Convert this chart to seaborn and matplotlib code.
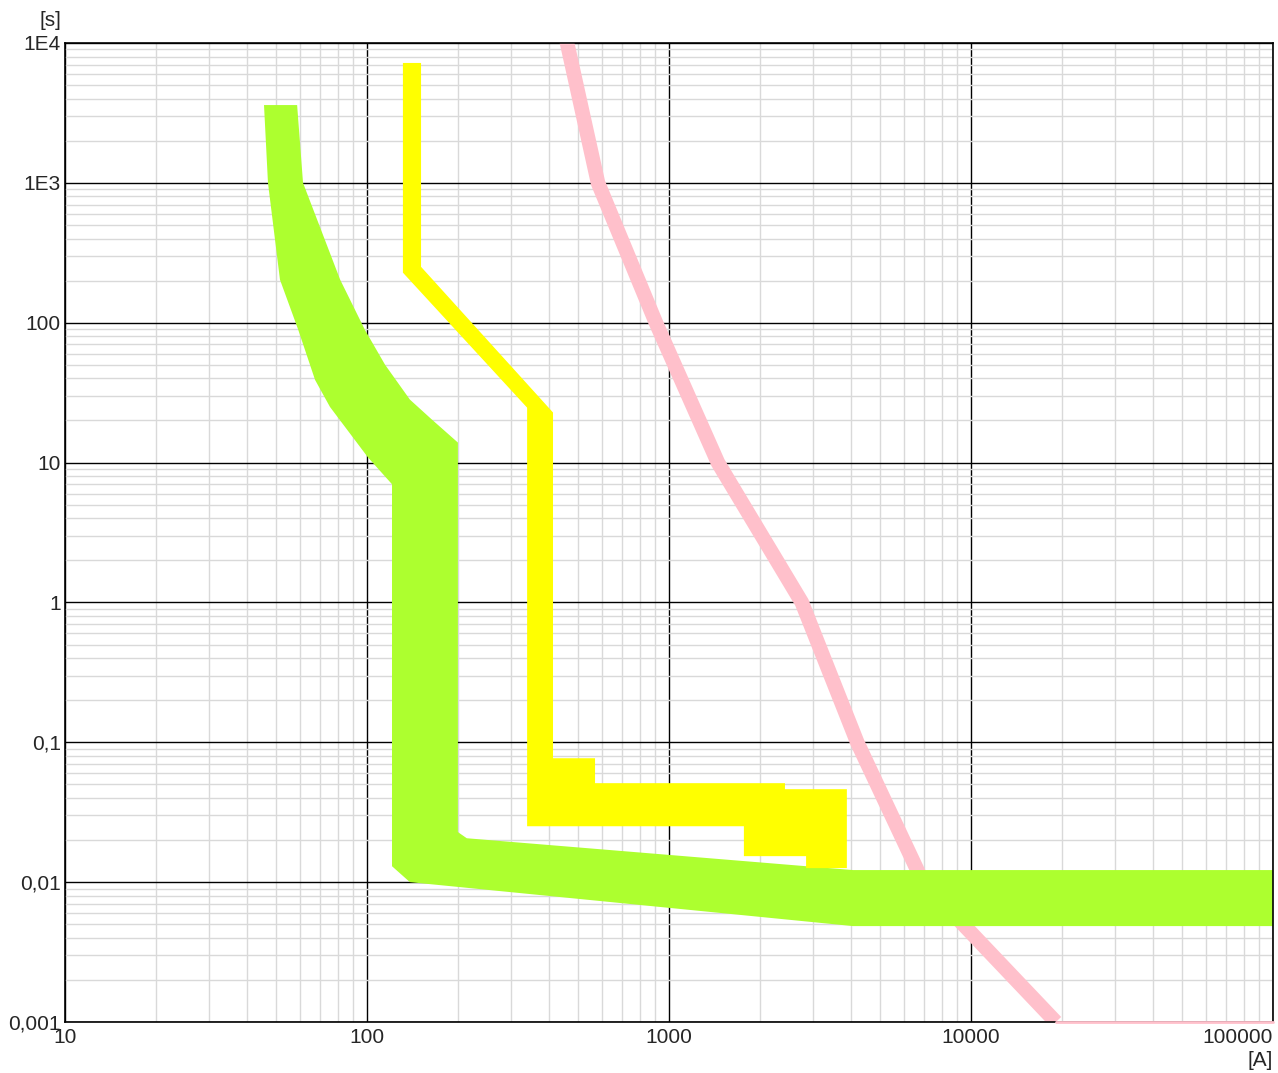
import matplotlib
matplotlib.use('Agg')
import matplotlib.pyplot as plt
import matplotlib.ticker as mticker
import numpy as np
import pandas as pd
import seaborn as sns

# Green band: upper/right edge top->bottom, lower/left edge top->bottom  (I [A], t [s])
green_upper_i = [58.7, 61.4, 81.5, 98.4, 114.8, 138.7, 164, 200, 200, 214, 4064, 100000]
green_upper_t = [3600, 1000, 203, 89, 50, 28.2, 20.3, 13.9, 0.0228, 0.0206, 0.0122, 0.0122]
green_lower_i = [45.6, 47, 51.5, 59.2, 67.3, 75.4, 100.7, 121, 121, 138.7, 4064, 100000]
green_lower_t = [3600, 1000, 203, 89, 39, 25, 10.9, 7.0, 0.013, 0.01, 0.00485, 0.00485]

# Yellow band outline
yellow_i = [131.5, 151, 151, 413, 413, 569, 569, 2421, 2421, 3881, 3881, 2844, 2844,
            1770, 1770, 339, 339, 131.5]
yellow_t = [7200, 7200, 251, 22.8, 0.0769, 0.0769, 0.051, 0.051, 0.0462, 0.0462,
            0.0126, 0.0126, 0.01534, 0.01534, 0.0251, 0.0251, 24.7, 228]

# Pink curve
pink_i = [449, 582, 905, 1452, 2753, 4200, 6935, 19100]
pink_t = [12600, 1000, 100, 10, 1, 0.1, 0.01, 0.001]
pink_tail_i = [19100, 100000]
pink_tail_t = [0.001, 0.001]

x_ticks = [10, 100, 1000, 10000, 100000]
x_labels = ['10', '100', '1000', '10000', '100000']
y_ticks = [0.001, 0.01, 0.1, 1, 10, 100, 1000, 10000]
y_labels = ['0,001', '0,01', '0,1', '1', '10', '100', '1E3', '1E4']

sns.set_style('white')
plt.rcParams['font.family'] = ['Liberation Sans', 'DejaVu Sans']

W, H = 1278, 1073
fig = plt.figure(figsize=(W / 100, H / 100), dpi=100)
ax = fig.add_axes([65 / W, 1 - 1022 / H, (1273 - 65) / W, (1022 - 43) / H])
ax.set_xscale('log')
ax.set_yscale('log')
ax.set_xlim(10, 100000)
ax.set_ylim(0.001, 10000)

# grid
ax.xaxis.set_minor_locator(mticker.LogLocator(base=10, subs=np.arange(2, 10), numticks=20))
ax.yaxis.set_minor_locator(mticker.LogLocator(base=10, subs=np.arange(2, 10), numticks=20))
ax.grid(which='minor', color='#d9d9d9', lw=1.0)
ax.grid(which='major', color='black', lw=1.0)
ax.set_axisbelow(True)

# pink curve (drawn first, under the bands)
pink = pd.DataFrame({'I': pink_i, 't': pink_t})
sns.lineplot(data=pink, x='I', y='t', sort=False, color='#ffc0cb', lw=10.5,
             ax=ax, zorder=2, solid_capstyle='butt', solid_joinstyle='round')
tail = pd.DataFrame({'I': pink_tail_i, 't': pink_tail_t})
sns.lineplot(data=tail, x='I', y='t', sort=False, color='#ffc0cb', lw=2,
             ax=ax, zorder=6, clip_on=False)

# green band
gx = green_upper_i + green_lower_i[::-1]
gy = green_upper_t + green_lower_t[::-1]
ax.fill(gx, gy, color='#adff2f', lw=0, zorder=3)

# yellow band
ax.fill(yellow_i, yellow_t, color='#ffff00', lw=0, zorder=3)

ax.xaxis.set_major_locator(mticker.FixedLocator(x_ticks))
ax.xaxis.set_major_formatter(mticker.FixedFormatter(x_labels))
ax.yaxis.set_major_locator(mticker.FixedLocator(y_ticks))
ax.yaxis.set_major_formatter(mticker.FixedFormatter(y_labels))
ax.tick_params(which='both', length=0, labelsize=15)
ax.tick_params(axis='x', pad=4)
ax.tick_params(axis='y', pad=3)
ax.xaxis.set_minor_formatter(mticker.NullFormatter())
ax.yaxis.set_minor_formatter(mticker.NullFormatter())
ax.get_xticklabels()[-1].set_ha('right')
ax.set_xlabel('')
ax.set_ylabel('')

for s in ax.spines.values():
    s.set_visible(True)
    s.set_color('black')
    s.set_linewidth(1.2)
    s.set_zorder(5)

fig.text(61 / W, 1 - 21 / H, '[s]', ha='right', va='center', fontsize=15)
fig.text(1273 / W, 1 - 1060 / H, '[A]', ha='right', va='center', fontsize=15)

fig.savefig('out.png', dpi=100)
